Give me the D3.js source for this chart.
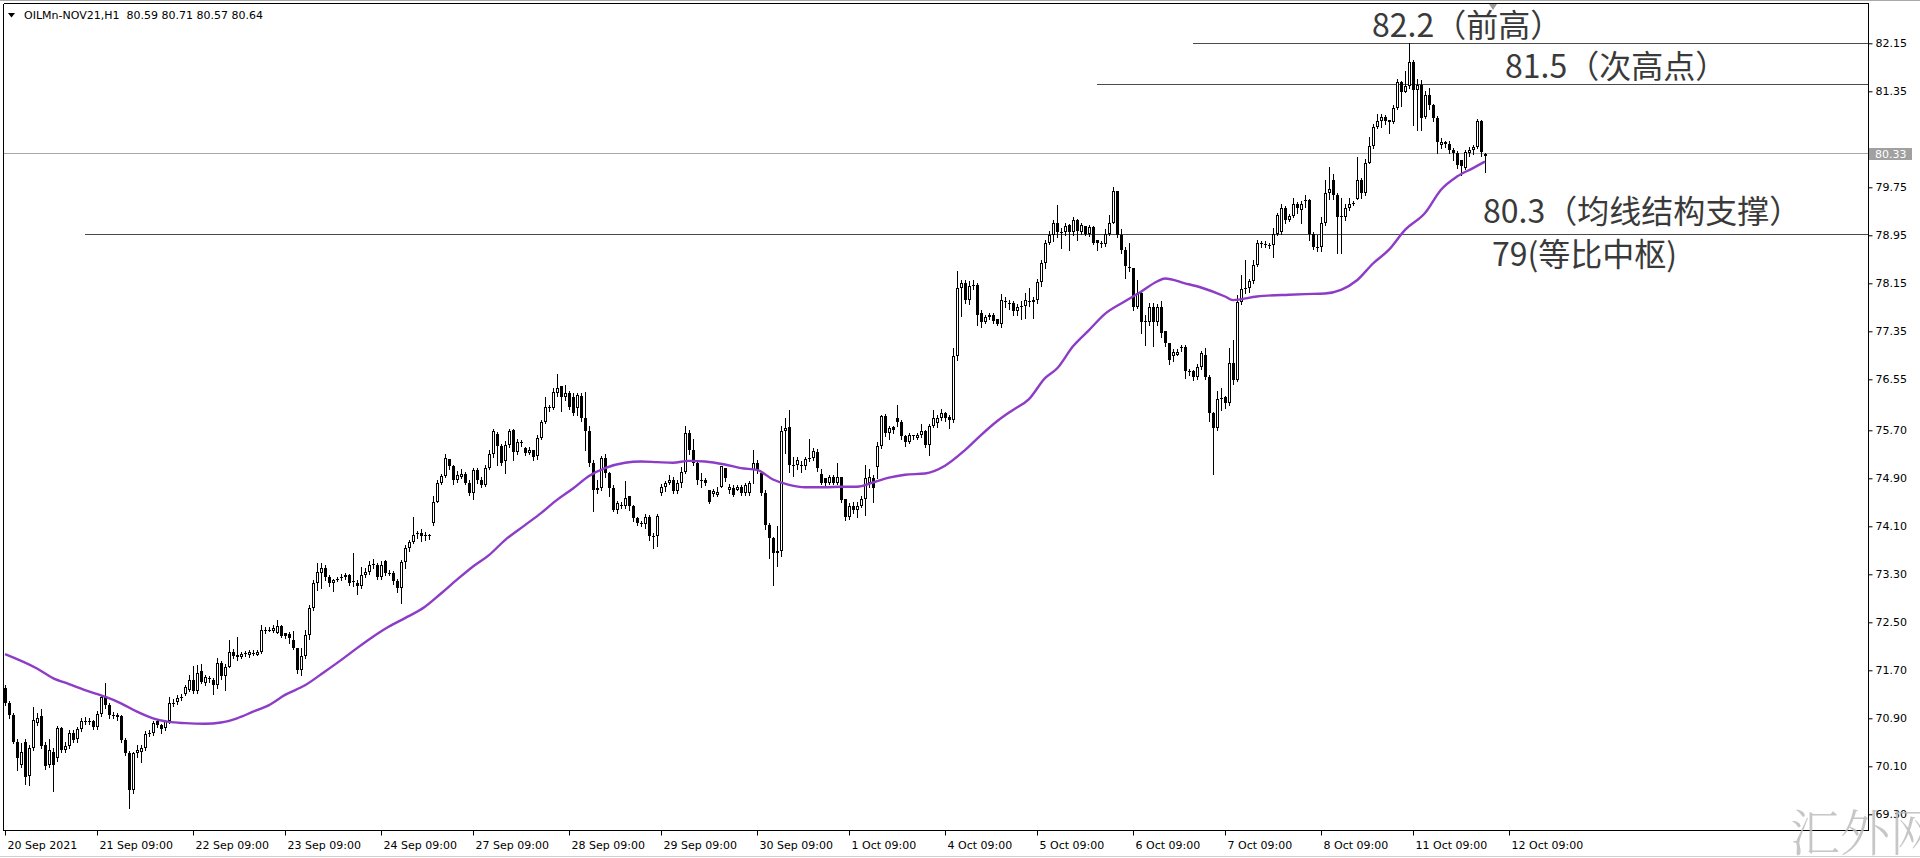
<!DOCTYPE html>
<html><head><meta charset="utf-8">
<script src="https://cdn.jsdelivr.net/npm/d3@7"></script>
<style>
html,body{margin:0;padding:0;background:#fff;overflow:hidden}
svg{display:block}
</style></head><body>
<svg id="c" width="1920" height="858"></svg>
<script>
// ---- data (H1 bars) ----
const open=[
71.40,71.15,70.95,70.51,70.13,70.51,69.93,70.41,70.82,70.93,
70.45,70.12,70.34,70.23,70.73,70.37,70.44,70.66,70.56,70.72,
70.86,70.85,70.85,70.75,70.97,71.25,71.12,70.95,70.95,70.93,
70.54,70.32,69.71,70.32,70.33,70.41,70.64,70.66,70.85,70.78,
70.73,70.85,71.15,71.17,71.24,71.30,71.38,71.53,71.36,71.68,
71.48,71.57,71.54,71.46,71.82,71.60,71.76,72.01,71.96,71.92,
71.97,71.95,71.99,71.96,72.01,72.37,72.37,72.35,72.33,72.44,
72.32,72.31,72.21,72.07,71.71,71.93,72.29,72.73,73.15,73.32,
73.40,73.26,73.16,73.21,73.23,73.25,73.28,73.18,73.16,73.10,
73.29,73.34,73.46,73.46,73.26,73.52,73.32,73.33,73.18,73.07,
73.51,73.73,73.84,73.97,73.99,73.95,73.95,74.15,74.51,74.82,
74.93,75.22,75.10,74.87,74.92,74.97,74.82,74.65,75.04,74.87,
74.79,75.07,75.30,75.64,75.43,75.18,75.46,75.70,75.34,75.50,
75.40,75.32,75.38,75.27,75.58,75.84,76.09,76.07,76.32,76.43,
76.26,76.32,76.26,76.07,76.27,75.90,75.68,75.15,74.70,74.74,
75.23,74.98,74.73,74.38,74.46,74.44,74.60,74.43,74.23,74.15,
74.14,74.26,73.93,73.93,74.66,74.76,74.82,74.88,74.68,74.82,
75.01,75.65,75.37,75.15,74.87,74.87,74.70,74.64,74.62,74.75,
75.08,74.70,74.74,74.70,74.76,74.66,74.66,75.04,75.16,74.98,
74.66,74.12,73.90,73.65,73.68,75.68,75.76,75.12,75.12,75.12,
75.10,75.22,75.24,75.34,74.97,74.90,74.82,74.92,74.82,74.92,
74.56,74.26,74.43,74.37,74.44,74.55,74.82,74.90,75.09,75.43,
75.93,75.65,75.76,75.90,75.84,75.60,75.51,75.62,75.58,75.62,
75.68,75.46,75.77,75.82,75.90,75.98,75.92,75.87,76.93,78.07,
78.15,77.87,78.10,78.13,77.65,77.51,77.59,77.63,77.55,77.47,
77.86,77.83,77.82,77.69,77.75,77.77,77.86,77.84,77.87,78.17,
78.48,78.82,78.96,79.15,79.01,79.01,79.12,79.01,79.21,79.01,
79.10,78.98,79.09,78.87,78.82,78.81,78.98,79.15,79.68,78.96,
78.71,78.42,78.40,77.76,77.98,77.53,77.50,77.76,77.50,77.76,
77.35,77.15,76.94,76.96,77.08,77.09,76.68,76.68,76.59,76.76,
76.95,76.59,75.98,75.73,76.22,76.26,76.15,76.82,76.54,77.84,
78.05,78.07,78.18,78.46,78.82,78.81,78.79,78.79,78.98,79.00,
79.40,79.21,79.27,79.48,79.37,79.52,79.54,78.98,78.76,78.76,
79.15,79.65,79.87,79.62,79.28,79.26,79.40,79.48,79.55,79.87,
79.65,80.16,80.43,80.76,80.86,80.92,80.87,80.84,81.08,81.51,
81.34,81.43,81.84,81.37,81.45,80.92,81.29,81.12,80.90,80.46,
80.50,80.47,80.37,80.32,80.20,80.08,80.33,80.37,80.42,80.86,80.30];
const high=[
71.45,71.18,70.98,70.55,70.48,70.55,70.45,71.09,70.98,71.05,
70.50,70.55,70.40,70.77,70.76,70.50,70.70,70.70,70.76,70.90,
70.92,70.91,70.88,71.02,71.28,71.49,71.16,71.00,70.98,70.96,
70.58,70.35,70.34,70.46,70.45,70.68,70.71,70.86,70.88,70.80,
70.88,71.26,71.22,71.28,71.30,71.45,71.62,71.77,71.78,71.80,
71.62,71.60,71.58,71.90,71.85,71.80,72.21,72.05,72.26,72.00,
72.02,72.03,72.03,72.04,72.46,72.42,72.42,72.45,72.53,72.46,
72.33,72.34,72.35,72.08,72.07,72.37,72.79,73.20,73.48,73.48,
73.45,73.28,73.22,73.26,73.30,73.32,73.30,73.65,73.20,73.42,
73.40,73.52,73.56,73.48,73.52,73.53,73.38,73.36,73.22,73.54,
73.78,73.88,74.26,74.02,74.05,74.00,73.97,74.60,74.88,74.97,
75.30,75.22,75.12,75.02,75.05,75.00,74.88,75.08,75.07,74.92,
75.12,75.38,75.72,75.67,75.47,75.52,75.72,75.72,75.55,75.54,
75.42,75.42,75.38,75.62,75.88,76.26,76.13,76.40,76.64,76.44,
76.46,76.36,76.32,76.33,76.32,76.34,75.78,75.20,74.88,75.27,
75.30,75.00,74.78,74.52,74.50,74.86,74.60,74.45,74.25,74.19,
74.30,74.28,73.98,74.30,74.80,74.85,74.95,74.92,74.88,75.09,
75.77,75.70,75.55,75.18,74.98,74.90,74.70,74.72,74.75,75.11,
75.08,74.80,74.78,74.79,74.78,74.83,74.86,75.37,75.20,74.98,
74.70,74.15,73.92,74.10,75.77,75.90,76.04,75.26,75.25,75.18,
75.26,75.55,75.40,75.39,75.05,74.90,74.95,74.95,75.16,74.92,
74.56,74.48,74.50,74.50,74.60,75.12,75.05,74.95,75.50,75.95,
75.97,75.78,75.78,76.12,75.88,75.62,75.65,75.63,75.66,75.81,
75.70,75.81,76.04,75.95,76.05,76.00,75.95,77.08,78.35,78.20,
78.20,78.18,78.20,78.15,77.70,77.62,77.66,77.66,77.55,77.97,
77.92,77.88,77.85,77.80,77.85,77.99,78.07,77.92,78.22,78.54,
78.88,79.02,79.20,79.45,79.08,79.15,79.14,79.25,79.22,79.15,
79.10,79.12,79.10,78.88,78.86,79.05,79.29,79.76,79.68,79.05,
78.75,78.82,78.40,78.20,78.02,77.62,77.82,77.82,77.80,77.85,
77.35,77.15,77.05,77.05,77.12,77.12,76.72,76.70,76.80,77.02,
77.07,76.62,76.00,76.35,76.40,76.28,77.07,77.20,77.95,78.29,
78.54,78.22,78.54,78.88,78.86,78.85,78.83,79.07,79.33,79.47,
79.44,79.30,79.57,79.50,79.53,79.62,79.55,79.00,78.96,79.26,
79.88,80.09,79.98,79.66,79.57,79.47,79.57,79.53,80.26,79.90,
80.22,80.59,80.80,80.98,80.97,80.95,80.88,81.12,81.56,81.53,
81.68,82.15,81.87,81.55,81.54,81.35,81.40,81.14,80.93,80.57,
80.52,80.52,80.40,80.36,80.20,80.38,80.42,80.46,80.89,80.87,80.33];
const low=[
71.12,70.90,70.48,70.04,70.09,69.81,69.78,70.38,70.78,70.40,
70.06,70.08,69.68,70.18,70.33,70.33,70.40,70.50,70.50,70.68,
70.80,70.80,70.72,70.72,70.94,71.08,70.90,70.90,70.88,70.50,
70.28,69.41,69.66,70.26,70.17,70.38,70.60,70.63,70.75,70.66,
70.70,70.82,71.10,71.14,71.20,71.28,71.36,71.33,71.33,71.48,
71.45,71.50,71.30,71.40,71.55,71.37,71.75,71.90,71.87,71.90,
71.94,71.92,71.95,71.95,71.99,72.33,72.35,72.34,72.32,72.25,
72.24,72.15,72.05,71.66,71.62,71.90,72.22,72.70,73.04,73.07,
73.20,73.10,73.02,73.18,73.20,73.22,73.12,73.10,72.97,73.08,
73.26,73.30,73.40,73.22,73.22,73.28,73.28,73.14,73.00,72.82,
73.40,73.68,73.82,73.90,73.85,73.88,73.89,74.12,74.50,74.80,
74.92,75.05,74.81,74.84,74.90,74.80,74.62,74.55,74.83,74.75,
74.77,75.05,75.26,75.12,75.12,74.99,75.42,75.20,75.30,75.44,
75.28,75.30,75.20,75.22,75.55,75.82,76.02,76.05,76.28,76.02,
76.20,76.05,75.95,75.96,75.85,75.37,75.10,74.35,74.66,74.70,
74.92,74.60,74.35,74.33,74.40,74.40,74.38,74.18,74.12,74.10,
74.08,73.88,73.73,73.77,74.62,74.68,74.80,74.65,74.66,74.75,
74.98,75.30,75.12,74.80,74.76,74.78,74.48,74.60,74.60,74.75,
74.85,74.65,74.60,74.70,74.62,74.62,74.62,74.82,74.98,74.62,
74.05,73.57,73.12,73.43,73.60,75.32,75.00,74.93,75.05,75.00,
75.05,75.18,75.20,75.02,74.80,74.75,74.80,74.80,74.80,74.50,
74.20,74.22,74.32,74.26,74.42,74.29,74.75,74.50,74.90,75.40,
75.60,75.55,75.66,75.78,75.55,75.43,75.48,75.55,75.56,75.59,
75.42,75.29,75.75,75.75,75.88,75.85,75.73,75.84,76.88,77.60,
77.82,77.80,78.05,77.45,77.42,77.48,77.55,77.48,77.45,77.42,
77.75,77.72,77.63,77.62,77.55,77.57,77.78,77.57,77.82,78.10,
78.40,78.80,78.85,78.92,78.73,78.95,78.71,78.95,78.87,78.98,
78.95,78.93,78.80,78.71,78.76,78.78,78.95,79.15,78.92,78.65,
78.23,78.35,77.70,77.74,77.32,77.12,77.45,77.10,77.45,77.25,
77.10,76.80,76.85,76.95,77.02,76.57,76.62,76.54,76.55,76.72,
76.55,75.85,74.97,75.70,76.04,76.08,76.12,76.47,76.52,77.80,
77.98,78.00,78.15,78.43,78.76,78.75,78.73,78.59,78.95,78.98,
79.16,79.18,79.25,79.32,79.15,79.42,78.87,78.72,78.68,78.68,
79.12,79.55,79.55,78.65,78.65,79.20,79.38,79.45,79.55,79.58,
79.62,80.15,80.40,80.74,80.76,80.80,80.65,80.82,81.05,81.10,
81.34,81.40,80.79,80.70,80.70,80.90,81.05,80.85,80.32,80.40,
80.42,80.32,80.20,80.08,79.95,80.05,80.28,80.30,80.40,80.28,80.01];
const close=[
71.15,70.95,70.51,70.23,70.34,69.92,70.41,70.87,70.90,70.44,
70.10,70.37,70.13,70.73,70.37,70.44,70.65,70.54,70.72,70.86,
70.86,70.85,70.76,70.97,71.26,71.12,70.95,70.96,70.92,70.54,
70.32,69.71,70.32,70.37,70.41,70.64,70.66,70.82,70.78,70.72,
70.85,71.15,71.16,71.23,71.26,71.42,71.53,71.36,71.66,71.51,
71.59,71.55,71.46,71.82,71.60,71.76,72.01,71.93,71.92,71.97,
71.98,72.00,71.98,72.01,72.37,72.37,72.38,72.40,72.44,72.27,
72.27,72.23,72.07,71.71,71.93,72.29,72.73,73.15,73.34,73.40,
73.26,73.16,73.20,73.22,73.25,73.28,73.16,73.17,73.10,73.29,
73.34,73.46,73.47,73.26,73.46,73.32,73.33,73.18,73.07,73.51,
73.73,73.84,73.95,73.98,73.93,73.96,73.93,74.51,74.82,74.93,
75.23,75.10,74.87,74.95,74.97,74.82,74.65,75.04,74.87,74.79,
75.07,75.30,75.68,75.43,75.15,75.46,75.68,75.34,75.51,75.49,
75.32,75.38,75.26,75.58,75.84,76.09,76.08,76.34,76.40,76.26,
76.33,76.09,75.99,76.29,75.90,75.68,75.15,74.70,74.74,75.23,
74.98,74.73,74.38,74.48,74.44,74.58,74.43,74.23,74.15,74.14,
74.26,73.93,73.93,74.27,74.76,74.82,74.88,74.68,74.82,75.01,
75.65,75.37,75.15,74.87,74.87,74.82,74.51,74.69,74.67,75.10,
74.90,74.76,74.63,74.76,74.65,74.79,74.82,75.16,75.04,74.66,
74.12,73.90,73.65,73.68,75.68,75.73,75.12,75.12,75.20,75.10,
75.22,75.24,75.35,75.07,74.82,74.82,74.92,74.82,74.92,74.54,
74.26,74.43,74.37,74.44,74.55,74.90,74.92,74.73,75.43,75.93,
75.65,75.73,75.71,75.84,75.60,75.51,75.62,75.60,75.62,75.68,
75.46,75.77,75.90,75.90,75.98,75.90,75.87,76.93,78.07,78.15,
77.87,78.10,78.13,77.62,77.51,77.59,77.63,77.53,77.47,77.87,
77.84,77.82,77.69,77.75,77.77,77.87,77.86,77.87,78.17,78.48,
78.82,78.96,79.15,79.01,79.01,79.11,79.01,79.20,79.03,79.12,
78.98,79.09,78.83,78.82,78.81,78.98,79.15,79.68,78.96,78.71,
78.43,78.41,77.76,77.98,77.51,77.50,77.76,77.50,77.76,77.32,
77.15,76.87,77.00,77.01,77.09,76.68,76.68,76.59,76.76,76.98,
76.59,75.98,75.73,76.22,76.23,76.15,76.82,76.54,77.84,78.05,
78.07,78.18,78.46,78.82,78.82,78.79,78.79,78.98,79.29,79.40,
79.21,79.27,79.48,79.40,79.47,79.54,78.98,78.76,78.76,79.15,
79.65,79.72,79.62,79.26,79.26,79.40,79.47,79.49,79.87,79.65,
80.16,80.43,80.76,80.86,80.92,80.85,80.84,81.08,81.51,81.34,
81.43,81.84,81.37,81.45,80.90,81.29,81.12,80.90,80.51,80.50,
80.47,80.37,80.32,80.12,80.10,80.34,80.37,80.42,80.86,80.34,80.28];

// moving average (purple line), sampled bar index -> value
const maBars=[0,8,12,16,20,25,29,33,37,41,45,50,54,58,62,66,70,75,80,84,88,92,96,100,105,109,113,117,121,125,130,134,138,142,146,150,155,159,163,167,171,175,180,184,188,192,196,200,205,209,213,217,221,225,230,235,240,244,248,252,256,260,263,267,271,275,280,284,288,290,295,299,305,307,313,321,325,330,334,338,342,346,350,355,359,363,367,370];
const maValues=[71.97,71.73,71.57,71.47,71.37,71.26,71.15,71.01,70.90,70.84,70.82,70.81,70.83,70.90,71.01,71.12,71.29,71.45,71.68,71.87,72.07,72.26,72.43,72.57,72.76,72.98,73.21,73.43,73.62,73.87,74.12,74.32,74.54,74.73,74.94,75.07,75.16,75.18,75.17,75.16,75.19,75.18,75.13,75.07,75.04,74.88,74.79,74.75,74.75,74.76,74.76,74.83,74.91,74.96,74.98,75.11,75.37,75.62,75.85,76.04,76.22,76.57,76.73,77.10,77.37,77.64,77.85,78.01,78.18,78.23,78.15,78.08,77.93,77.87,77.93,77.96,77.97,77.98,78.04,78.20,78.48,78.71,79.04,79.32,79.71,79.93,80.07,80.18];

const timeTickBars=[0,23,47,70,94,117,141,164,188,211,235,258,282,305,329,352,376];
const timeTickLabels=["20 Sep 2021","21 Sep 09:00","22 Sep 09:00","23 Sep 09:00","24 Sep 09:00","27 Sep 09:00","28 Sep 09:00","29 Sep 09:00","30 Sep 09:00","1 Oct 09:00","4 Oct 09:00","5 Oct 09:00","6 Oct 09:00","7 Oct 09:00","8 Oct 09:00","11 Oct 09:00","12 Oct 09:00"];
const priceTicks=[82.15,81.35,79.75,78.95,78.15,77.35,76.55,75.70,74.90,74.10,73.30,72.50,71.70,70.90,70.10,69.30];

const levelValues=[82.15,81.47,78.98];
const levelStartBars=[297,273,20];
const bidPrice=80.33;
const annotationTexts=["82.2（前高）","81.5（次高点）","80.3（均线结构支撑）","79(等比中枢)"];
const headerText="OILMn-NOV21,H1  80.59 80.71 80.57 80.64";
const watermark="汇外网";

// ---- drawing ----
const svg=d3.select("#c");
const W=1920,H=858, R=1868.5, B=830.5, L=3.5, T=3.5;
svg.append("rect").attr("width",W).attr("height",H).attr("fill","#fff");

const x=d3.scaleLinear().domain([0,376]).range([5,1509]);
const y=d3.scaleLinear().domain([82.15,69.30]).range([43.3,814.3]);

// window lines
svg.append("line").attr("x1",0).attr("x2",W).attr("y1",0.5).attr("y2",0.5).attr("stroke","#a8a8a8");
svg.append("line").attr("x1",0).attr("x2",W).attr("y1",856.5).attr("y2",856.5).attr("stroke","#d0d0d0");

const plot=svg.append("g");
// annotation level lines
plot.selectAll("line.lvl").data(levelValues).join("line").attr("class","lvl")
  .attr("x1",(d,i)=>x(levelStartBars[i])).attr("x2",R)
  .attr("y1",d=>Math.round(y(d))+0.5).attr("y2",d=>Math.round(y(d))+0.5)
  .attr("stroke","#4a4a4a").attr("stroke-width",1);
// bid line
plot.append("line").attr("x1",L).attr("x2",R)
  .attr("y1",Math.round(y(bidPrice))+0.5).attr("y2",Math.round(y(bidPrice))+0.5)
  .attr("stroke","#a8a8a8");

// candles
const idx=d3.range(close.length);
const cg=plot.append("g").attr("shape-rendering","crispEdges");
cg.selectAll("line.wick").data(idx).join("line").attr("class","wick")
  .attr("x1",i=>Math.round(x(i))+0.5).attr("x2",i=>Math.round(x(i))+0.5)
  .attr("y1",i=>Math.round(y(Math.max(high[i],open[i],close[i]))))
  .attr("y2",i=>Math.round(y(Math.min(low[i],open[i],close[i])))+1)
  .attr("stroke","#000");
cg.selectAll("rect.body").data(idx).join("rect").attr("class","body")
  .each(function(i){
    const top=Math.round(y(Math.max(open[i],close[i])));
    const bot=Math.round(y(Math.min(open[i],close[i])));
    const cx=Math.round(x(i));
    const s=d3.select(this);
    if(bot-top<2){
      s.attr("x",cx-1).attr("y",top).attr("width",3).attr("height",Math.max(1,bot-top)).attr("fill","#000");
    } else if(close[i]>open[i]){
      s.attr("x",cx-0.5).attr("y",top+0.5).attr("width",2).attr("height",bot-top-1)
       .attr("fill","#fff").attr("stroke","#000");
    } else {
      s.attr("x",cx-1).attr("y",top).attr("width",3).attr("height",bot-top).attr("fill","#000");
    }
  });

// moving average
const maPts=maBars.map((b,i)=>[b,maValues[i]]);
plot.append("path").datum(maPts)
  .attr("d",d3.line().x(d=>x(d[0])).y(d=>y(d[1])).curve(d3.curveMonotoneX))
  .attr("fill","none").attr("stroke","#8c3cc6").attr("stroke-width",2.4);

// frame
const fg=svg.append("g").attr("shape-rendering","crispEdges");
fg.append("line").attr("x1",L).attr("x2",R).attr("y1",T).attr("y2",T).attr("stroke","#000");
fg.append("line").attr("x1",L).attr("x2",L).attr("y1",T).attr("y2",B).attr("stroke","#000");
fg.append("line").attr("x1",L).attr("x2",R).attr("y1",B).attr("y2",B).attr("stroke","#000");
fg.append("line").attr("x1",R).attr("x2",R).attr("y1",T).attr("y2",B).attr("stroke","#000");

// price axis
const ya=svg.append("g").attr("transform",`translate(${R},0)`)
  .call(d3.axisRight(y).tickValues(priceTicks).tickSize(4).tickPadding(3).tickFormat(d3.format(".2f")));
ya.select(".domain").remove();
ya.selectAll("text").attr("font-family","DejaVu Sans, Verdana, sans-serif").attr("font-size",11).attr("fill","#000");
ya.selectAll("line").attr("stroke","#000");

// bid price label
const by=Math.round(y(bidPrice));
svg.append("rect").attr("x",1869).attr("y",by-5).attr("width",43).attr("height",12).attr("fill","#a0a0a0");
svg.append("text").attr("x",1875).attr("y",by+5).text(d3.format(".2f")(bidPrice))
  .attr("font-family","DejaVu Sans, Verdana, sans-serif").attr("font-size",11).attr("fill","#fff");

// time axis
const xa=svg.append("g").attr("transform",`translate(0,${B})`)
  .call(d3.axisBottom(x).tickValues(timeTickBars).tickSize(5).tickPadding(6).tickFormat((d,i)=>timeTickLabels[i]));
xa.select(".domain").remove();
xa.selectAll("text").attr("text-anchor","start").attr("dx",2)
  .attr("font-family","DejaVu Sans, Verdana, sans-serif").attr("font-size",11).attr("fill","#000");
xa.selectAll("line").attr("stroke","#000");

// header
svg.append("path").attr("d","M8,13 L15,13 L11.5,17.5 Z").attr("fill","#000");
svg.append("text").attr("x",24).attr("y",19).attr("xml:space","preserve").style("white-space","pre")
  .attr("font-family","DejaVu Sans, Verdana, sans-serif").attr("font-size",11).attr("fill","#000").text(headerText);

// chart-shift marker
svg.append("path").attr("d","M1489,4 L1497,4 L1493,10 Z").attr("fill","#9a9a9a");

// annotation texts
const annPos=[[1372,37],[1505,78],[1483,223],[1492,266]];
svg.selectAll("text.ann").data(annotationTexts).join("text").attr("class","ann")
  .attr("x",(d,i)=>annPos[i][0]).attr("y",(d,i)=>annPos[i][1])
  .attr("font-family","Noto Sans CJK SC, sans-serif").attr("font-size",32).attr("fill","#3a3a3a")
  .text(d=>d);

// watermark
svg.append("text").attr("x",1790).attr("y",851).text(watermark)
  .attr("font-family","Noto Serif CJK SC, Noto Sans CJK SC, serif").attr("font-weight",300)
  .attr("font-size",50).attr("fill","#bdbdbd").attr("opacity",0.85);
</script>
</body></html>
